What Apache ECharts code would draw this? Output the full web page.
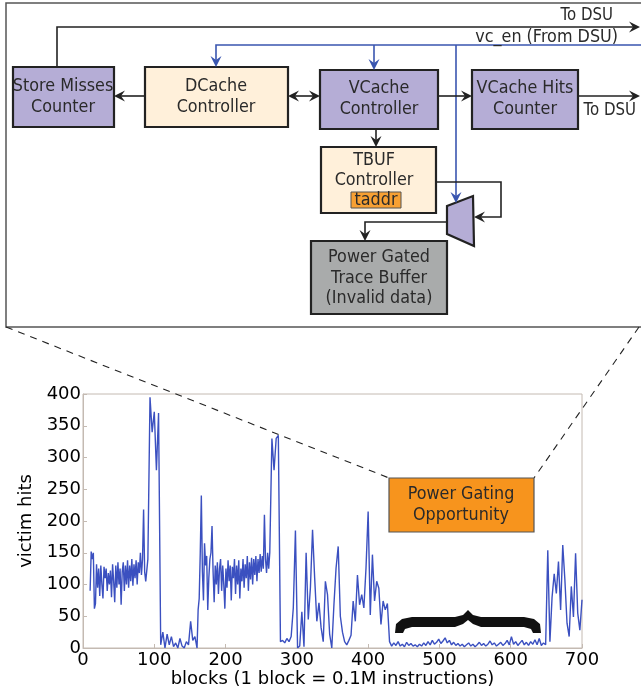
<!DOCTYPE html>
<html>
<head>
<meta charset="utf-8">
<script src="https://cdn.jsdelivr.net/npm/echarts@6/dist/echarts.min.js"></script>
<style>
html,body{margin:0;padding:0;background:#fff;}
#c{width:641px;height:696px;}
</style>
</head>
<body>
<div id="c"></div>
<script>
// ---- data, split in segments of evenly spaced blocks ----
// segment A: blocks 10 .. 88, every 1.5 blocks
var startA = 10, stepA = 1.5;
var hitsA = [90,152,140,150,62,70,132,95,125,82, 130,100,78,128,110,125,90,118,100,122,
             80,132,105,72,130,95,135,100,125,68, 120,135,90,130,100,138,95,130,105,140,
             98,132,110,138,100,135,118,150,115,140, 218,120,105];
// segment B: blocks 91 .. 160, every 3 blocks
var startB = 91, stepB = 3;
var hitsB = [140,395,340,372,280,370,5,25,0,22,5,18,2,8,0,15,3,0,10,5,42,12,18,0];
// segment C: blocks 161.5 .. 260.5, every 1.5 blocks
var startC = 161.5, stepC = 1.5;
var hitsC = [60,78,150,240,120,75,165,130,145,60, 110,140,150,192,120,72,130,100,135,85,
             125,140,90,130,100,62,125,95,138,105, 130,75,128,110,140,85,130,100,138,78,
             125,105,140,95,132,110,145,90,135,108, 142,100,140,115,145,105,140,118,148,120,
             145,125,210,140,118,150,125];
// segment D: blocks 262 .. 700, every 3 blocks
var startD = 262, stepD = 3;
var hitsD = [150,330,280,330,335,10,12,8,15,10,18,63,185,0,3,57,2,150,45,95,186,110,42,71,32,10,105,84,22,0,68,126,160,50,25,10,5,12,20,74,42,115,68,84,63,126,215,52,147,74,105,94,37,74,60,70,10,3,
 8,4,10,3,6,2,9,4,7,3,5,2,6,3,8,4,10,5,12,6,9,14,7,11,16,8,12,5,9,4,7,3,6,2,5,8,3,6,2,5,9,4,7,3,6,11,5,8,3,6,9,4,7,12,5,18,6,10,4,8,12,5,9,4,10,6,13,5,15,4,8,
 5,154,10,80,117,86,136,60,162,107,39,18,97,49,149,55,28,76];
var xTicks = [0,100,200,300,400,500,600,700];

function seg(start, step, vals){ return vals.map(function(v,i){ return [start + i*step, v]; }); }
var points = [].concat(seg(startA,stepA,hitsA), seg(startB,stepB,hitsB), seg(startC,stepC,hitsC), seg(startD,stepD,hitsD));

// ---- diagram helpers ----
var DARK = '#222';
var BLUE = '#3a56b0';
var FONT = '16px "DejaVu Sans"';
function arrow(x, y, dir, color){
  var L = 11, W = 5.5, N = 7;
  var local = [[0,0],[-L,-W],[-N,0],[-L,W]];
  var r = {right:[1,0], left:[-1,0], down:[0,1], up:[0,-1]}[dir];
  var pts = local.map(function(p){ return [x + p[0]*r[0] - p[1]*r[1], y + p[0]*r[1] + p[1]*r[0]]; });
  return {type:'polygon', shape:{points:pts}, style:{fill:color||DARK}, z:20};
}
function pline(pts, color, w, dash){
  return {type:'polyline', shape:{points:pts}, style:{stroke:color||DARK, lineWidth:w||1.6, fill:null, lineDash:dash||null}, z:15};
}
function box(x,y,w,h,fill){
  return {type:'rect', shape:{x:x,y:y,width:w,height:h}, style:{fill:fill, stroke:DARK, lineWidth:2.2}, z:18};
}
function txt(s,x,y,align,font){
  return {type:'text', x:x, y:y, scaleY:1.15, style:{text:s, font:font||FONT, fill:'#2a2a2a', textAlign:align||'center', textVerticalAlign:'middle'}, z:22};
}

var PURPLE = '#b5add6', CREAM = '#fff0da', GREY = '#a9abab';

var g = [];
// outer frame
g.push({type:'rect', shape:{x:6,y:3,width:640,height:324}, style:{fill:'#fff', stroke:'#555', lineWidth:1.5}, z:10});
// top "To DSU" line
g.push(pline([[57,67],[57,27],[634,27]]));
g.push(arrow(640,27,'right'));
g.push(txt('To DSU',613,16,'right','15px "DejaVu Sans"'));
// blue vc_en
g.push(pline([[641,45],[216,45],[216,62]], BLUE));
g.push(arrow(216,67,'down',BLUE));
g.push(pline([[374,45],[374,65]], BLUE));
g.push(arrow(374,70,'down',BLUE));
g.push(pline([[456,45],[456,198]], BLUE));
g.push(arrow(456,203,'down',BLUE));
g.push(txt('vc_en (From DSU)',618,37,'right'));
// horizontal connections
g.push(pline([[145,96],[118,96]]));
g.push(arrow(114,96,'left'));
g.push(pline([[292,96],[316,96]]));
g.push(arrow(288,96,'left'));
g.push(arrow(320,96,'right'));
g.push(pline([[438,96],[468,96]]));
g.push(arrow(472,96,'right'));
g.push(pline([[578,96],[636,96]]));
g.push(arrow(640,96,'right'));
g.push(txt('To DSU',636,111,'right','15px "DejaVu Sans"'));
// VCache -> TBUF
g.push(pline([[376,129],[376,143]]));
g.push(arrow(376,147,'down'));
// loop from TBUF to mux
g.push(pline([[436,182],[501,182],[501,217],[478,217]]));
g.push(arrow(474,217,'left'));
// mux -> power gated buffer
g.push(pline([[447,222],[365,222],[365,237]]));
g.push(arrow(365,241,'down'));
// boxes
g.push(box(13,67,101,60,PURPLE));
g.push(txt('Store Misses',63,86)); g.push(txt('Counter',63,107));
g.push(box(145,67,143,60,CREAM));
g.push(txt('DCache',216,86)); g.push(txt('Controller',216,107));
g.push(box(320,70,118,59,PURPLE));
g.push(txt('VCache',379,88)); g.push(txt('Controller',379,109));
g.push(box(472,70,106,59,PURPLE));
g.push(txt('VCache Hits',525,88)); g.push(txt('Counter',525,109));
g.push(box(321,147,115,66,CREAM));
g.push(txt('TBUF',374,160)); g.push(txt('Controller',374,180));
g.push({type:'rect', shape:{x:351,y:192,width:50,height:16}, style:{fill:'#f7a033', stroke:'#555', lineWidth:1}, z:19});
g.push(txt('taddr',376,200));
g.push({type:'polygon', shape:{points:[[447,206],[473,196],[474,246],[447,234]]}, style:{fill:PURPLE, stroke:DARK, lineWidth:2.2}, z:18});
g.push(box(311,241,136,73,GREY));
g.push(txt('Power Gated',379,257)); g.push(txt('Trace Buffer',379,278)); g.push(txt('(Invalid data)',379,298));
// dashed zoom lines
g.push(pline([[6,327],[389,478]], '#222', 1.1, [7,6]));
g.push(pline([[639,327],[534,478]], '#222', 1.1, [7,6]));
// power gating box
g.push({type:'rect', shape:{x:389,y:478,width:145,height:54}, style:{fill:'#f7941d', stroke:'#555', lineWidth:1.2}, z:18});
g.push(txt('Power Gating',461,494)); g.push(txt('Opportunity',461,515));
// brace
g.push({type:'polygon', shape:{points:[
 [468,610],[463,615],[455,617],[412,617],[402,619],[396,624],[395,633],[403,633],[405,629],[412,627],[455,627],[463,624],[468,620],
 [473,624],[481,627],[524,627],[531,629],[533,633],[541,633],[540,624],[534,619],[524,617],[481,617],[473,615]
]}, style:{fill:'#111'}, z:18});

var AX = '#c4bab2';
var option = {
  animation:false,
  backgroundColor:'#fff',
  grid:{left:83, right:59, top:394, bottom:48, show:true, borderColor:AX, borderWidth:1, backgroundColor:'#fff'},
  xAxis:{type:'value', min:0, max:700, interval:100,
    name:'blocks (1 block = 0.1M instructions)', nameLocation:'middle', nameGap:21,
    nameTextStyle:{fontFamily:'DejaVu Sans', fontSize:18, color:'#000'},
    axisLine:{lineStyle:{color:AX}}, axisTick:{inside:true, length:4, lineStyle:{color:AX}},
    splitLine:{show:false},
    axisLabel:{margin:3, fontFamily:'DejaVu Sans', fontSize:18, color:'#000',
      customValues: xTicks}
  },
  yAxis:{type:'value', min:0, max:400, interval:50,
    name:'victim hits', nameLocation:'middle', nameGap:36,
    nameTextStyle:{fontFamily:'DejaVu Sans', fontSize:18, color:'#000'},
    axisLine:{show:true, lineStyle:{color:AX}}, axisTick:{show:true, inside:true, length:4, lineStyle:{color:AX}},
    splitLine:{show:false},
    axisLabel:{margin:2, fontFamily:'DejaVu Sans', fontSize:18, color:'#000'}
  },
  series:[{type:'line', data:points, showSymbol:false, symbol:'none',
    lineStyle:{color:'#3b50c0', width:1.4}, z:3}],
  graphic:{elements:g}
};
var chart = echarts.init(document.getElementById('c'), null, {renderer:'canvas'});
chart.setOption(option);
</script>
</body>
</html>
